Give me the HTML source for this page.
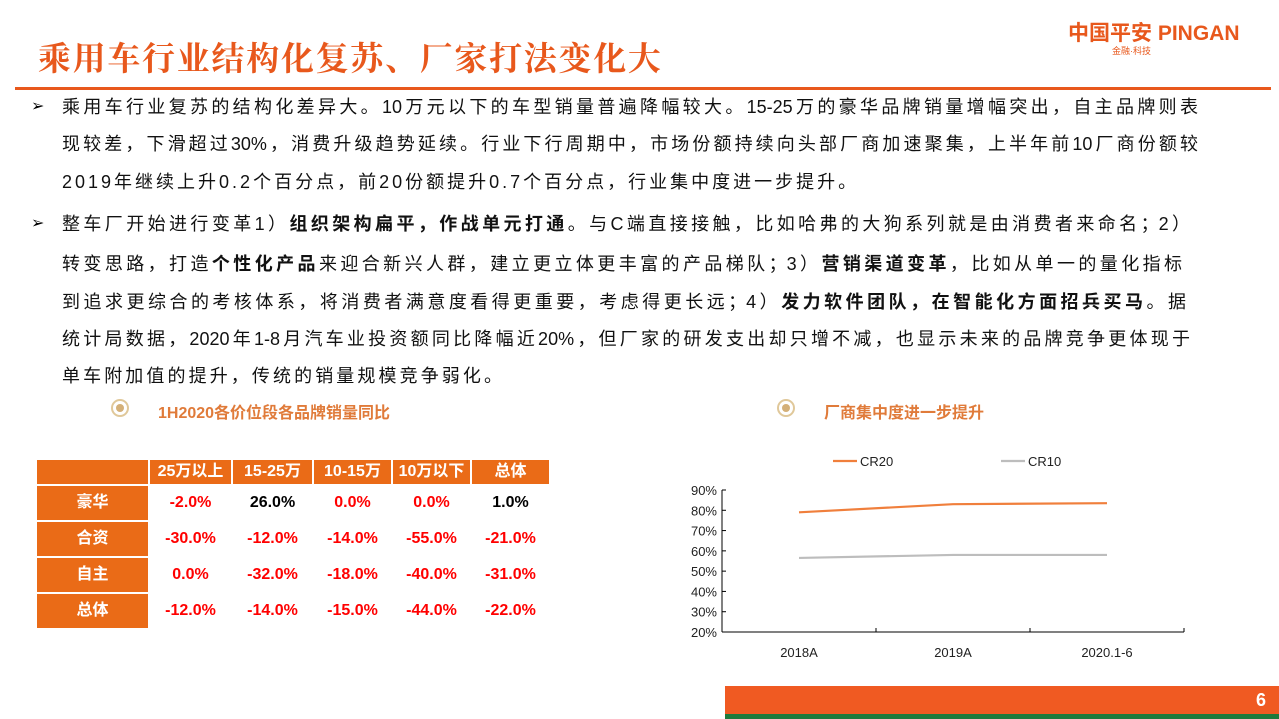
<!DOCTYPE html>
<html><head><meta charset="utf-8"><style>
body{margin:0;width:1279px;height:719px;overflow:hidden;background:#fff;font-family:"Liberation Sans","Noto Sans CJK SC",sans-serif;position:relative}
.abs{position:absolute}
.title{left:38px;top:33px;font-size:33px;font-weight:bold;color:#e8581c;letter-spacing:1.7px;font-family:"Noto Serif CJK SC","Noto Sans CJK SC",serif;white-space:nowrap}
.line{position:absolute;left:62px;font-size:18px;color:#111;white-space:nowrap;line-height:24px}
.j{width:1136px;text-align:justify;text-align-last:justify}
.bul{position:absolute;left:31px;font-size:16px}
table{border-collapse:separate;border-spacing:2px;position:absolute;left:35px;top:458px;font-family:"Liberation Sans","Noto Sans CJK SC",sans-serif}
td{text-align:center;vertical-align:middle;font-weight:bold;font-size:16px;padding:0;line-height:20px}
.h td{background:#ea6b17;color:#fff;height:24px}
.rh{background:#ea6b17;color:#fff;width:111px}
.r td{height:34px}
.red{color:#f00}
.sec{font-size:16px;font-weight:bold;color:#e07b3a}
.ring{width:14px;height:14px;border:2px solid #e0c89a;border-radius:50%;position:absolute}
.ring::after{content:"";position:absolute;left:3px;top:3px;width:8px;height:8px;border-radius:50%;background:#d4b078}
</style></head><body>
<div class="abs title">乘用车行业结构化复苏、厂家打法变化大</div>
<div class="abs" style="left:1068px;top:17px;color:#e8581c;font-size:21px;font-weight:bold;white-space:nowrap">中国平安 PINGAN</div>
<div class="abs" style="left:1112px;top:44px;color:#e8581c;font-size:9px">金融·科技</div>
<div class="abs" style="left:15px;top:87px;width:1256px;height:3px;background:#e8581c"></div>

<div class="bul" style="top:96px">➢</div>
<div class="line j" style="top:95px">乘用车行业复苏的结构化差异大。10万元以下的车型销量普遍降幅较大。15-25万的豪华品牌销量增幅突出，自主品牌则表</div>
<div class="line j" style="top:132px">现较差，下滑超过30%，消费升级趋势延续。行业下行周期中，市场份额持续向头部厂商加速聚集，上半年前10厂商份额较</div>
<div class="line" style="top:170px;letter-spacing:3px">2019年继续上升0.2个百分点，前20份额提升0.7个百分点，行业集中度进一步提升。</div>

<div class="bul" style="top:213px">➢</div>
<div class="line j" style="top:212px;width:1128px">整车厂开始进行变革1）<b>组织架构扁平，作战单元打通</b>。与C端直接接触，比如哈弗的大狗系列就是由消费者来命名；2）</div>
<div class="line j" style="top:252px;width:1120px">转变思路，打造<b>个性化产品</b>来迎合新兴人群，建立更立体更丰富的产品梯队；3）<b>营销渠道变革</b>，比如从单一的量化指标</div>
<div class="line j" style="top:290px;width:1124px">到追求更综合的考核体系，将消费者满意度看得更重要，考虑得更长远；4）<b>发力软件团队，在智能化方面招兵买马</b>。据</div>
<div class="line j" style="top:327px;width:1128px">统计局数据，2020年1-8月汽车业投资额同比降幅近20%，但厂家的研发支出却只增不减，也显示未来的品牌竞争更体现于</div>
<div class="line" style="top:364px;letter-spacing:3.1px">单车附加值的提升，传统的销量规模竞争弱化。</div>

<div class="ring" style="left:111px;top:399px"></div>
<div class="abs sec" style="left:158px;top:399px">1H2020各价位段各品牌销量同比</div>
<div class="ring" style="left:777px;top:399px"></div>
<div class="abs sec" style="left:824px;top:399px">厂商集中度进一步提升</div>

<table>
<tr class="h"><td style="width:111px"></td><td style="width:81px">25万以上</td><td style="width:79px">15-25万</td><td style="width:77px">10-15万</td><td style="width:77px">10万以下</td><td style="width:77px">总体</td></tr>
<tr class="r"><td class="rh">豪华</td><td class="red">-2.0%</td><td>26.0%</td><td class="red">0.0%</td><td class="red">0.0%</td><td>1.0%</td></tr>
<tr class="r"><td class="rh">合资</td><td class="red">-30.0%</td><td class="red">-12.0%</td><td class="red">-14.0%</td><td class="red">-55.0%</td><td class="red">-21.0%</td></tr>
<tr class="r"><td class="rh">自主</td><td class="red">0.0%</td><td class="red">-32.0%</td><td class="red">-18.0%</td><td class="red">-40.0%</td><td class="red">-31.0%</td></tr>
<tr class="r"><td class="rh">总体</td><td class="red">-12.0%</td><td class="red">-14.0%</td><td class="red">-15.0%</td><td class="red">-44.0%</td><td class="red">-22.0%</td></tr>
</table>

<svg class="abs" style="left:0;top:0" width="1279" height="719" id="chart"></svg>

<div class="abs" style="left:725px;top:686px;width:554px;height:28px;background:#f05a22"></div>
<div class="abs" style="left:725px;top:714px;width:554px;height:5px;background:#1e7a3c"></div>
<div class="abs" style="left:1256px;top:690px;color:#fff;font-weight:bold;font-size:18px">6</div>

<script>
const categories=["2018A","2019A","2020.1-6"];
const cr20=[79,83,83.5];
const cr10=[56.5,58,58];
const yTicks=[20,30,40,50,60,70,80,90];
const svg=document.getElementById('chart');
const NS="http://www.w3.org/2000/svg";
const x0=722,x1=1184,y0=632,y1=490;
const band=(x1-x0)/categories.length;
const xs=i=>x0+band*(i+0.5);
const ys=v=>y0-(v-20)/70*(y0-y1);
function mk(t,a,txt){const e=document.createElementNS(NS,t);for(const k in a)e.setAttribute(k,a[k]);if(txt!==undefined)e.textContent=txt;svg.appendChild(e);return e;}
let e=mk('line',{x1:x0,y1:y0,x2:x1,y2:y0,stroke:'#000','stroke-width':1});

e=mk('line',{x1:x0,y1:y1,x2:x0,y2:y0,stroke:'#000','stroke-width':1});

yTicks.forEach(v=>{
 mk('line',{x1:x0,y1:ys(v),x2:x0+4,y2:ys(v),stroke:'#000'});
 const t=mk('text',{x:x0-5,y:ys(v)+5,'text-anchor':'end','font-size':13,fill:'#222'},v+'%');
 
});
for(let i=0;i<=categories.length;i++){mk('line',{x1:x0+band*i,y1:y0,x2:x0+band*i,y2:y0-4,stroke:'#000'});}
categories.forEach((c,i)=>{const t=mk('text',{x:xs(i),y:y0+25,'text-anchor':'middle','font-size':13,fill:'#222'},c);
 });
function series(vals,color,name){const p=mk('polyline',{points:vals.map((v,i)=>xs(i)+','+ys(v)).join(' '),fill:'none',stroke:color,'stroke-width':2.2});
 }
series(cr20,'#f07f3c','cr20-line');
series(cr10,'#bdbdbd','cr10-line');
e=mk('line',{x1:833,y1:461,x2:857,y2:461,stroke:'#f07f3c','stroke-width':2.2});

e=mk('text',{x:860,y:466,'font-size':13,fill:'#222'},'CR20');

e=mk('line',{x1:1001,y1:461,x2:1025,y2:461,stroke:'#bdbdbd','stroke-width':2.2});

e=mk('text',{x:1028,y:466,'font-size':13,fill:'#222'},'CR10');

</script>
</body></html>
